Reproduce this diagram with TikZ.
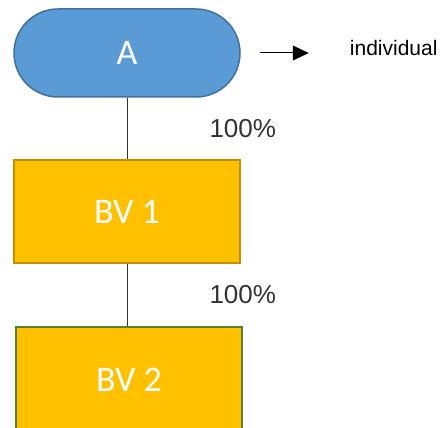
\documentclass[tikz,border=0pt]{standalone}
\usepackage{fontspec}
\setmainfont{Liberation Sans}
\newfontfamily\boxfont{Carlito}
\usetikzlibrary{positioning,arrows.meta}
\definecolor{ablue}{HTML}{5B9BD5}
\definecolor{abluedark}{HTML}{41719C}
\definecolor{bvgold}{HTML}{FFC000}
\definecolor{bvgolddark}{HTML}{BF9000}
\definecolor{bvgreen}{HTML}{548235}
\tikzset{
  link/.style = {draw, line width=1pt, black!80},
  pointer/.style = {draw, line width=1pt, -{Triangle[length=16pt, width=15pt]}},
  term/.style = {draw=abluedark, fill=ablue, line width=1.5pt, rectangle, rounded corners=44pt,
    minimum width=226pt, minimum height=88pt, text=white, font=\boxfont\fontsize{36}{40}\selectfont},
  entity/.style = {fill=bvgold, line width=2pt, rectangle, minimum width=226pt,
    text=white, font=\boxfont\fontsize{36}{40}\selectfont},
  pct/.style = {font=\fontsize{26}{30}\selectfont, inner sep=0pt},
}
\begin{document}
\begin{tikzpicture}[x=1pt, y=-1pt]
    \clip (0,0) rectangle (440,428);
    \node[term] (A) at (127,53) {A};
    \node[entity, draw=bvgolddark, minimum height=103pt, below of=A, node distance=158.5pt] (bv1) {BV 1};
    \node[entity, draw=bvgreen, minimum height=106pt, below of=bv1, node distance=168.5pt, xshift=2pt] (bv2) {BV 2};
    \coordinate[right=19pt of A.east] (arrstart);
    \coordinate[right=68pt of A.east] (arrend);
    \node[anchor=west, inner sep=0pt, font=\fontsize{21}{25}\selectfont] (indiv) at ([xshift=109pt, yshift=5pt]A.east) {individual};
    \path[pointer] (arrstart) -- (arrend);
    \path[link] (A) -- node[pct, right=82pt] {100\%} (bv1);
    \path[link] (bv1) -- node[pct, right=82pt] {100\%} (bv1 |- bv2.north);
\end{tikzpicture}
\end{document}
